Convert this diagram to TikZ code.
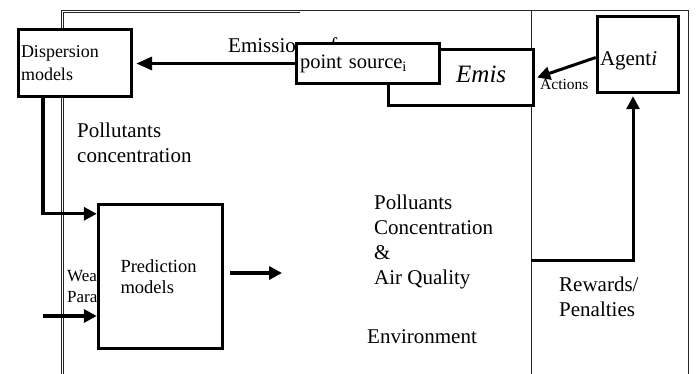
\documentclass[tikz,border=0pt]{standalone}
\usepackage{fontspec}
\setmainfont{Liberation Serif}
\usetikzlibrary{arrows.meta,calc}

\begin{document}
\begin{tikzpicture}[x=1pt, y=-1pt,
  frm/.style={line width=0.8pt, draw=black!85},
  blk/.style={draw, line width=3.4pt, fill=white, inner sep=1.5pt, align=left},
  arr/.style={-{Triangle[length=13pt, width=13pt]}, line width=3.4pt},
  txt/.style={anchor=base west, inner sep=0pt, align=left, font=\fontsize{21}{25}\selectfont}
]
  \useasboundingbox (0,0) rectangle (697,374);

  % environment frame
  \draw[frm] (61,374) -- (61,10) -- (688,10) -- (688,374);
  \draw[frm] (63.5,374) -- (63.5,12.5) -- (300,12.5);
  \draw[frm] (531,10) -- (531,374);

  % texts lying under the boxes
  \node[txt] (emission) at (228,53) {Emissions of};
  \node[txt, font=\fontsize{17}{21}\selectfont] (wthr) at (67,303) {Weather\\Parameters};

  % boxes
  \node[blk, minimum width=113pt, minimum height=67pt, text width=108pt,
        font=\fontsize{18}{22.7}\selectfont] (disp) at (75,63) {Dispersion\\models};
  \node[blk, minimum width=124pt, minimum height=144pt, text width=80pt,
        font=\fontsize{18.5}{21.5}\selectfont] (pred) at (160.5,276.5) {Prediction\\models};
  \node[blk, minimum width=145pt, minimum height=56pt] (emis) at (461,77.5) {};
  \node[txt, font=\fontsize{25}{30}\selectfont\itshape] (emistxt) at (456,83) {Emis};
  \node[blk, minimum width=143pt, minimum height=40pt, text width=136pt,
        font=\fontsize{20.5}{24}\selectfont] (src) at (368,63.5) {point source\textsubscript{i}};
  \node[blk, minimum width=81pt, minimum height=76pt, text width=76pt,
        font=\fontsize{21}{25}\selectfont] (agent) at (638,54.5) {\rule{0pt}{26pt}Agent\textit{i}};

  % labels
  \node[txt] (pconc) at (77,163) {Pollutants\\concentration};
  \node[txt] (pqual) at (374,285) {Polluants\\Concentration\\\&\\Air Quality};
  \node[txt] (envt) at (367,344) {Environment};
  \node[txt] (rwd) at (559,317) {Rewards/\\Penalties};
  \node[txt, font=\fontsize{15.5}{18}\selectfont] (act) at (540,90) {Actions};

  % connectors
  \coordinate (wsrc) at (43,316);
  \coordinate (pout) at (282,273);
  \coordinate (rsrc) at (531,261);
  \draw[arr, -{Triangle[length=16pt, width=13pt]}] (src.west) -- ([xshift=3pt]src.west -| disp.east);
  \draw[arr] ([xshift=-32pt]disp.south) |- ([yshift=-11pt]pred.north west);
  \draw[arr] (wsrc) -- (wsrc -| pred.west);
  \draw[arr] ([xshift=6pt]pred.east |- pout) -- (pout);
  \draw[arr, line width=3pt] ([yshift=-3pt]agent.west) -- ([xshift=2pt]emis.east);
  \draw[arr, line width=3pt] (rsrc) -| ([xshift=-5pt, yshift=-2pt]agent.south);
\end{tikzpicture}
\end{document}
